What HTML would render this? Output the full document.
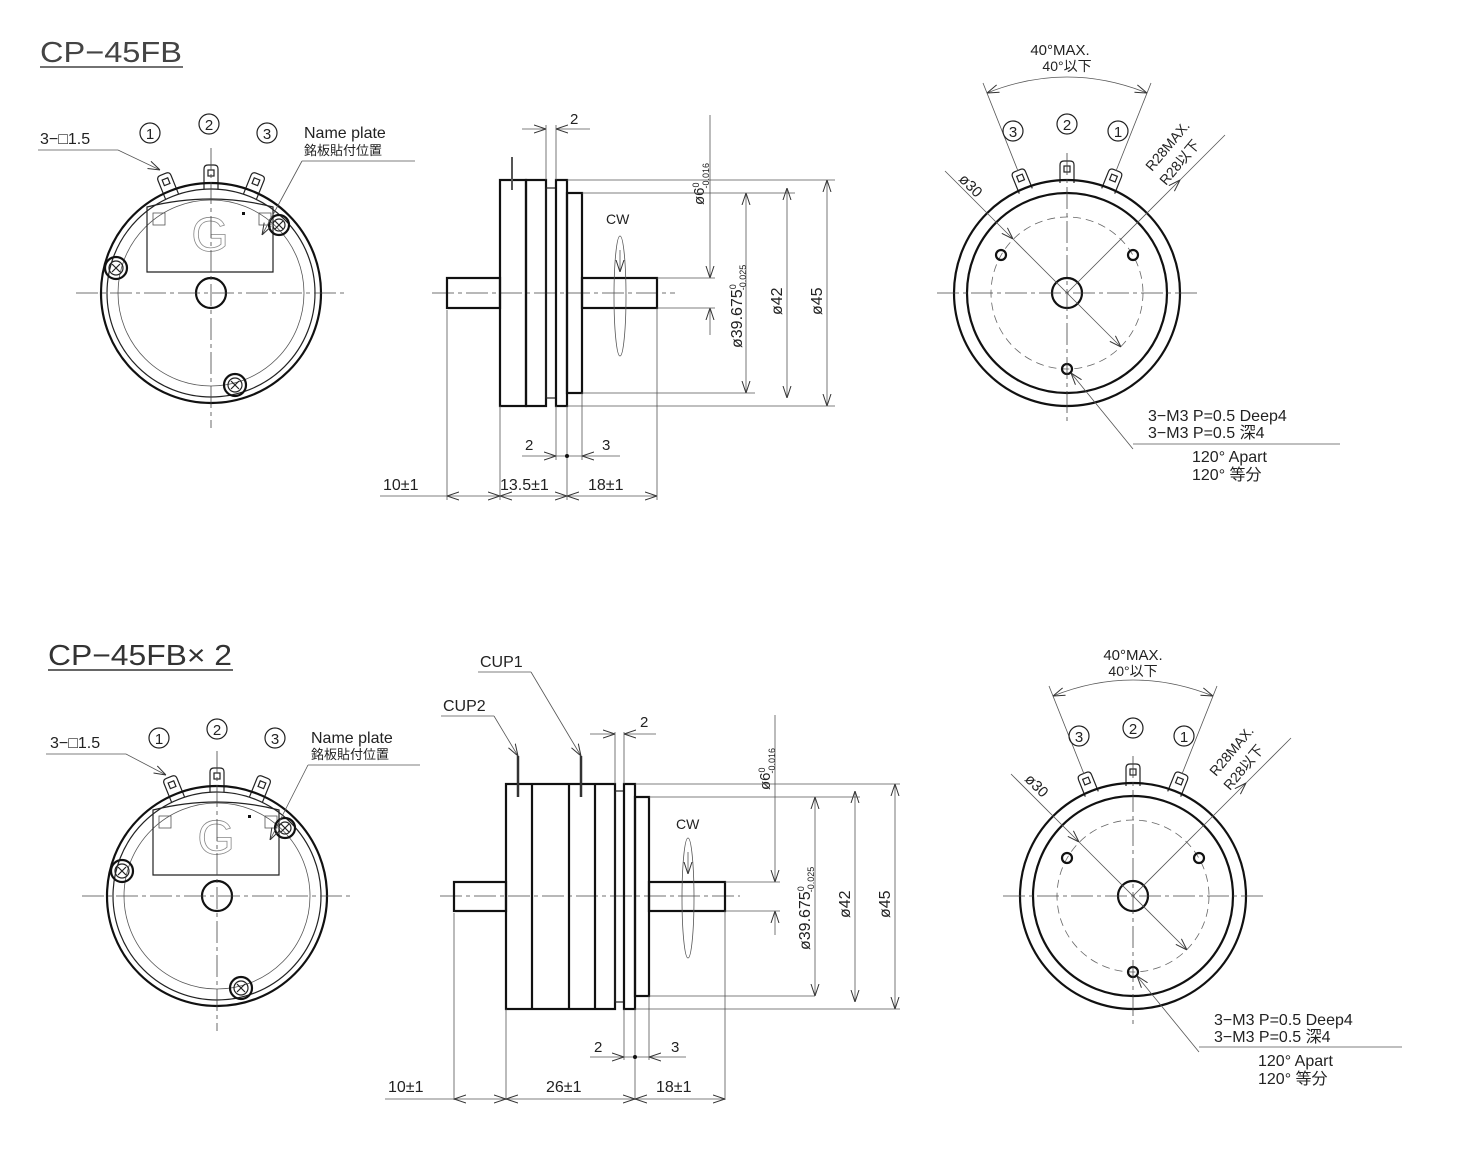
<!DOCTYPE html>
<html><head><meta charset="utf-8"><style>
html,body{margin:0;padding:0;background:#fff;}
svg{display:block;}
text{font-family:"Liberation Sans","Noto Sans CJK JP",sans-serif;fill:#222;}
.k{stroke:#111;fill:none;stroke-width:2.2}
.m{stroke:#222;fill:none;stroke-width:1.2}
.t{stroke:#555;fill:none;stroke-width:0.8}
.a{stroke:#555;fill:none;stroke-width:0.8;marker-start:url(#ar);marker-end:url(#ar)}
.e{stroke:#555;fill:none;stroke-width:0.8;marker-end:url(#ar)}
.c{stroke:#444;fill:none;stroke-width:0.8;stroke-dasharray:22 4 4 4}
.d{stroke:#666;fill:none;stroke-width:0.8;stroke-dasharray:8 5}
</style></head><body>
<svg width="1465" height="1152" viewBox="0 0 1465 1152" xmlns="http://www.w3.org/2000/svg">
<defs>
<marker id="ar" viewBox="0 -5 12 10" refX="12" refY="0" markerWidth="12" markerHeight="10" markerUnits="userSpaceOnUse" orient="auto-start-reverse">
  <path d="M0,-4 L12,0 L0,4" fill="none" stroke="#333" stroke-width="1"/>
</marker>
<g id="fl">
  <g transform="rotate(-22)"><path class="m" d="M-7,-104 L-7,-124 Q-7,-128 -3,-128 L3,-128 Q7,-128 7,-124 L7,-104"/><rect class="m" x="-3" y="-123" width="6" height="6"/></g>
  <g><path class="m" d="M-7,-104 L-7,-124 Q-7,-128 -3,-128 L3,-128 Q7,-128 7,-124 L7,-104"/><rect class="m" x="-3" y="-123" width="6" height="6"/></g>
  <g transform="rotate(22)"><path class="m" d="M-7,-104 L-7,-124 Q-7,-128 -3,-128 L3,-128 Q7,-128 7,-124 L7,-104"/><rect class="m" x="-3" y="-123" width="6" height="6"/></g>
  <circle class="k" r="110"/>
  <circle class="m" r="104"/>
  <circle class="t" r="93"/>
  <circle class="k" r="15"/>
  <path class="m" d="M-64,-21 L-64,-86 Q0,-102 62,-86 L62,-21 Z" fill="#fff"/>
  <rect class="t" x="-58" y="-80" width="12" height="12"/>
  <rect class="t" x="48" y="-80" width="12" height="12"/>
  <rect x="31" y="-81" width="3" height="3" fill="#111"/>
  <text x="-1" y="-42" text-anchor="middle" font-family="Liberation Serif,serif" font-size="48" style="fill:none;stroke:#888;stroke-width:0.8">G</text>
  <circle class="k" cx="-95" cy="-25" r="11" fill="#fff"/><circle class="m" cx="-95" cy="-25" r="7"/><path class="m" d="M-99,-29 L-91,-21 M-99,-21 L-91,-29"/>
  <circle class="k" cx="24" cy="92" r="11" fill="#fff"/><circle class="m" cx="24" cy="92" r="7"/><path class="m" d="M20,88 L28,96 M20,96 L28,88"/>
  <circle class="k" cx="68" cy="-68" r="10" fill="#fff"/><circle class="m" cx="68" cy="-68" r="6"/><path class="m" d="M64,-72 L72,-64 M64,-64 L72,-72"/>
  <line class="c" x1="-135" y1="0" x2="135" y2="0"/>
  <line class="c" x1="0" y1="-145" x2="0" y2="135"/>
</g>
<g id="fr">
  <g transform="rotate(-22)"><path class="m" d="M-7,-110 L-7,-128 Q-7,-132 -3,-132 L3,-132 Q7,-132 7,-128 L7,-110"/><rect class="m" x="-3" y="-127" width="6" height="6"/></g>
  <g><path class="m" d="M-7,-110 L-7,-128 Q-7,-132 -3,-132 L3,-132 Q7,-132 7,-128 L7,-110"/><rect class="m" x="-3" y="-127" width="6" height="6"/></g>
  <g transform="rotate(22)"><path class="m" d="M-7,-110 L-7,-128 Q-7,-132 -3,-132 L3,-132 Q7,-132 7,-128 L7,-110"/><rect class="m" x="-3" y="-127" width="6" height="6"/></g>
  <circle class="k" r="113" fill="#fff"/>
  <circle class="k" r="100"/>
  <circle class="d" r="76"/>
  <circle class="k" r="15"/>
  <circle class="k" cx="-66" cy="-38" r="5"/><circle class="k" cx="66" cy="-38" r="5"/><circle class="k" cx="0" cy="76" r="5"/>
  <line class="c" x1="-130" y1="0" x2="130" y2="0"/>
  <line class="c" x1="0" y1="-140" x2="0" y2="130"/>
  <line class="t" x1="-122" y1="-122" x2="-54" y2="-54" style="marker-end:url(#ar)"/>
  <line class="t" x1="-54" y1="-54" x2="54" y2="54" style="marker-end:url(#ar)"/>
  <line class="t" x1="0" y1="0" x2="113" y2="-113" style="marker-end:url(#ar)"/>
  <line class="t" x1="113" y1="-113" x2="158" y2="-158"/>
  <line class="t" x1="66" y1="156" x2="4" y2="80" style="marker-end:url(#ar)"/>
  <line class="t" x1="-49" y1="-122" x2="-84" y2="-210"/>
  <line class="t" x1="49" y1="-122" x2="84" y2="-210"/>
  <path class="t" d="M-80,-200 Q0,-232 80,-200" style="marker-start:url(#ar);marker-end:url(#ar)"/>
</g>
</defs>

<!-- ===== TOP ===== -->
<text x="40" y="62" font-size="29" textLength="142" lengthAdjust="spacingAndGlyphs" style="fill:#444">CP−45FB</text>
<line x1="40" y1="67" x2="183" y2="67" stroke="#444" stroke-width="1.5"/>

<use href="#fl" x="211" y="293"/>
<text x="40" y="144" font-size="16">3−□1.5</text>
<line class="t" x1="38" y1="150" x2="118" y2="150"/><line class="t" x1="118" y1="150" x2="160" y2="170" style="marker-end:url(#ar)"/>
<circle class="m" cx="150" cy="133" r="10"/><text x="150" y="139" font-size="15" text-anchor="middle">1</text>
<circle class="m" cx="209" cy="124" r="10"/><text x="209" y="130" font-size="15" text-anchor="middle">2</text>
<circle class="m" cx="267" cy="133" r="10"/><text x="267" y="139" font-size="15" text-anchor="middle">3</text>
<text x="304" y="138" font-size="16">Name plate</text>
<text x="304" y="155" font-size="13">銘板貼付位置</text>
<line class="t" x1="302" y1="161" x2="415" y2="161"/><line class="t" x1="302" y1="161" x2="262" y2="235" style="marker-end:url(#ar)"/>

<!-- top side view -->
<line class="c" x1="432" y1="293" x2="675" y2="293"/>
<rect class="k" x="447" y="278" width="53" height="30"/>
<rect class="k" x="582" y="278" width="75" height="30"/>
<rect class="k" x="500" y="180" width="26" height="226"/>
<rect class="k" x="526" y="180" width="20" height="226"/>
<rect class="m" x="546" y="188" width="10" height="210"/>
<rect class="k" x="556" y="180" width="11" height="226"/>
<rect class="k" x="567" y="193" width="15" height="200"/>
<line x1="512" y1="157" x2="512" y2="190" stroke="#555" stroke-width="2"/>
<line class="t" x1="546" y1="125" x2="546" y2="180"/><line class="t" x1="556" y1="125" x2="556" y2="180"/>
<line class="e" x1="522" y1="129" x2="546" y2="129"/><line class="e" x1="590" y1="129" x2="556" y2="129"/><text x="570" y="124" font-size="15">2</text>
<line class="t" x1="710" y1="115" x2="710" y2="278" style="marker-end:url(#ar)"/><line class="e" x1="710" y1="335" x2="710" y2="308"/>
<text transform="translate(704,205) rotate(-90)" font-size="15">ø6<tspan font-size="9" dy="-5">0</tspan><tspan font-size="9" dx="-6" dy="10">-0.016</tspan></text>
<line class="t" x1="567" y1="180" x2="835" y2="180"/><line class="t" x1="582" y1="193" x2="795" y2="193"/>
<line class="t" x1="582" y1="393" x2="755" y2="393"/><line class="t" x1="567" y1="406" x2="835" y2="406"/>
<line class="t" x1="657" y1="278" x2="715" y2="278"/><line class="t" x1="657" y1="308" x2="715" y2="308"/>
<line class="a" x1="746" y1="193" x2="746" y2="393"/><line class="a" x1="787" y1="188" x2="787" y2="398"/><line class="a" x1="827" y1="180" x2="827" y2="406"/>
<text transform="translate(742,348) rotate(-90)" font-size="16">ø39.675<tspan font-size="9" dy="-6">0</tspan><tspan font-size="9" dx="-6" dy="10">-0.025</tspan></text>
<text transform="translate(782,315) rotate(-90)" font-size="16">ø42</text>
<text transform="translate(822,315) rotate(-90)" font-size="16">ø45</text>
<text x="606" y="224" font-size="14">CW</text>
<ellipse class="t" cx="620" cy="296" rx="6" ry="60"/>
<line class="t" x1="620" y1="250" x2="620" y2="272" style="marker-end:url(#ar)"/>
<line class="t" x1="447" y1="310" x2="447" y2="500"/><line class="t" x1="500" y1="406" x2="500" y2="500"/>
<line class="t" x1="567" y1="406" x2="567" y2="500"/><line class="t" x1="657" y1="308" x2="657" y2="500"/>
<line class="t" x1="556" y1="406" x2="556" y2="460"/><line class="t" x1="582" y1="393" x2="582" y2="460"/>
<line class="e" x1="522" y1="456" x2="556" y2="456"/><line class="e" x1="620" y1="456" x2="582" y2="456"/><line class="t" x1="556" y1="456" x2="582" y2="456"/><circle cx="567" cy="456" r="2" fill="#111"/>
<text x="525" y="450" font-size="15">2</text><text x="602" y="450" font-size="15">3</text>
<line class="t" x1="380" y1="496" x2="447" y2="496"/>
<line class="a" x1="447" y1="496" x2="500" y2="496"/><line class="a" x1="500" y1="496" x2="567" y2="496"/><line class="a" x1="567" y1="496" x2="657" y2="496"/>
<text x="383" y="490" font-size="16">10±1</text><text x="500" y="490" font-size="16">13.5±1</text><text x="588" y="490" font-size="16">18±1</text>

<!-- top right front -->
<use href="#fr" x="1067" y="293"/>
<circle class="m" cx="1013" cy="131" r="10"/><text x="1013" y="137" font-size="15" text-anchor="middle">3</text>
<circle class="m" cx="1067" cy="124" r="10"/><text x="1067" y="130" font-size="15" text-anchor="middle">2</text>
<circle class="m" cx="1118" cy="131" r="10"/><text x="1118" y="137" font-size="15" text-anchor="middle">1</text>
<text x="1060" y="55" font-size="15" text-anchor="middle">40°MAX.</text>
<text x="1067" y="71" font-size="14" text-anchor="middle">40°以下</text>
<text transform="translate(958,180) rotate(45)" font-size="15">ø30</text>
<text transform="translate(1152,172) rotate(-50)" font-size="14">R28MAX.</text>
<text transform="translate(1166,186) rotate(-50)" font-size="14">R28以下</text>
<text x="1148" y="421" font-size="16">3−M3 P=0.5 Deep4</text>
<text x="1148" y="438" font-size="16">3−M3 P=0.5 深4</text>
<line class="t" x1="1133" y1="444" x2="1340" y2="444"/>
<text x="1192" y="462" font-size="16">120° Apart</text>
<text x="1192" y="480" font-size="16">120° 等分</text>

<!-- ===== BOTTOM ===== -->
<text x="48" y="665" font-size="29" textLength="184" lengthAdjust="spacingAndGlyphs" style="fill:#333">CP−45FB× 2</text>
<line x1="48" y1="670" x2="233" y2="670" stroke="#333" stroke-width="1.5"/>

<use href="#fl" x="217" y="896"/>
<text x="50" y="748" font-size="16">3−□1.5</text>
<line class="t" x1="46" y1="754" x2="126" y2="754"/><line class="t" x1="126" y1="754" x2="166" y2="775" style="marker-end:url(#ar)"/>
<circle class="m" cx="159" cy="738" r="10"/><text x="159" y="744" font-size="15" text-anchor="middle">1</text>
<circle class="m" cx="217" cy="729" r="10"/><text x="217" y="735" font-size="15" text-anchor="middle">2</text>
<circle class="m" cx="275" cy="738" r="10"/><text x="275" y="744" font-size="15" text-anchor="middle">3</text>
<text x="311" y="743" font-size="16">Name plate</text>
<text x="311" y="759" font-size="13">銘板貼付位置</text>
<line class="t" x1="308" y1="765" x2="420" y2="765"/><line class="t" x1="308" y1="765" x2="270" y2="840" style="marker-end:url(#ar)"/>

<!-- bottom side view -->
<line class="c" x1="440" y1="896" x2="740" y2="896"/>
<rect class="k" x="454" y="882" width="52" height="29"/>
<rect class="k" x="649" y="882" width="76" height="29"/>
<rect class="k" x="506" y="784" width="109" height="225"/>
<line class="k" x1="532" y1="784" x2="532" y2="1009"/><line class="k" x1="569" y1="784" x2="569" y2="1009"/><line class="k" x1="595" y1="784" x2="595" y2="1009"/>
<rect class="m" x="615" y="791" width="9" height="211"/>
<rect class="k" x="624" y="784" width="11" height="225"/>
<rect class="k" x="635" y="797" width="14" height="199"/>
<line x1="518" y1="756" x2="518" y2="797" stroke="#333" stroke-width="2.5"/>
<line x1="581" y1="756" x2="581" y2="797" stroke="#333" stroke-width="2.5"/>
<text x="443" y="711" font-size="16">CUP2</text><line class="t" x1="441" y1="716" x2="494" y2="716"/><line class="t" x1="494" y1="716" x2="518" y2="756" style="marker-end:url(#ar)"/>
<text x="480" y="667" font-size="16">CUP1</text><line class="t" x1="478" y1="672" x2="531" y2="672"/><line class="t" x1="531" y1="672" x2="581" y2="756" style="marker-end:url(#ar)"/>
<line class="t" x1="615" y1="732" x2="615" y2="784"/><line class="t" x1="624" y1="732" x2="624" y2="784"/>
<line class="e" x1="590" y1="734" x2="615" y2="734"/><line class="e" x1="656" y1="734" x2="624" y2="734"/><text x="640" y="727" font-size="15">2</text>
<line class="t" x1="775" y1="715" x2="775" y2="882" style="marker-end:url(#ar)"/><line class="e" x1="775" y1="935" x2="775" y2="911"/>
<text transform="translate(770,790) rotate(-90)" font-size="15">ø6<tspan font-size="9" dy="-5">0</tspan><tspan font-size="9" dx="-6" dy="10">-0.016</tspan></text>
<line class="t" x1="635" y1="784" x2="900" y2="784"/><line class="t" x1="649" y1="797" x2="860" y2="797"/>
<line class="t" x1="649" y1="996" x2="815" y2="996"/><line class="t" x1="635" y1="1009" x2="900" y2="1009"/>
<line class="t" x1="725" y1="882" x2="780" y2="882"/><line class="t" x1="725" y1="911" x2="780" y2="911"/>
<line class="a" x1="815" y1="797" x2="815" y2="996"/><line class="a" x1="855" y1="791" x2="855" y2="1002"/><line class="a" x1="895" y1="784" x2="895" y2="1009"/>
<text transform="translate(810,950) rotate(-90)" font-size="16">ø39.675<tspan font-size="9" dy="-6">0</tspan><tspan font-size="9" dx="-6" dy="10">-0.025</tspan></text>
<text transform="translate(850,918) rotate(-90)" font-size="16">ø42</text>
<text transform="translate(890,918) rotate(-90)" font-size="16">ø45</text>
<text x="676" y="829" font-size="14">CW</text>
<ellipse class="t" cx="688" cy="898" rx="6" ry="60"/>
<line class="t" x1="688" y1="852" x2="688" y2="874" style="marker-end:url(#ar)"/>
<line class="t" x1="454" y1="913" x2="454" y2="1100"/><line class="t" x1="506" y1="1009" x2="506" y2="1100"/>
<line class="t" x1="635" y1="1009" x2="635" y2="1100"/><line class="t" x1="725" y1="911" x2="725" y2="1100"/>
<line class="t" x1="624" y1="1009" x2="624" y2="1060"/><line class="t" x1="649" y1="996" x2="649" y2="1060"/>
<line class="e" x1="590" y1="1057" x2="624" y2="1057"/><line class="e" x1="686" y1="1057" x2="649" y2="1057"/><line class="t" x1="624" y1="1057" x2="649" y2="1057"/><circle cx="635" cy="1057" r="2" fill="#111"/>
<text x="594" y="1052" font-size="15">2</text><text x="671" y="1052" font-size="15">3</text>
<line class="t" x1="385" y1="1099" x2="454" y2="1099"/>
<line class="a" x1="454" y1="1099" x2="506" y2="1099"/><line class="a" x1="506" y1="1099" x2="635" y2="1099"/><line class="a" x1="635" y1="1099" x2="725" y2="1099"/>
<text x="388" y="1092" font-size="16">10±1</text><text x="546" y="1092" font-size="16">26±1</text><text x="656" y="1092" font-size="16">18±1</text>

<!-- bottom right front -->
<use href="#fr" x="1133" y="896"/>
<circle class="m" cx="1079" cy="736" r="10"/><text x="1079" y="742" font-size="15" text-anchor="middle">3</text>
<circle class="m" cx="1133" cy="728" r="10"/><text x="1133" y="734" font-size="15" text-anchor="middle">2</text>
<circle class="m" cx="1184" cy="736" r="10"/><text x="1184" y="742" font-size="15" text-anchor="middle">1</text>
<text x="1133" y="660" font-size="15" text-anchor="middle">40°MAX.</text>
<text x="1133" y="676" font-size="14" text-anchor="middle">40°以下</text>
<text transform="translate(1024,780) rotate(45)" font-size="15">ø30</text>
<text transform="translate(1216,777) rotate(-50)" font-size="14">R28MAX.</text>
<text transform="translate(1230,791) rotate(-50)" font-size="14">R28以下</text>
<text x="1214" y="1025" font-size="16">3−M3 P=0.5 Deep4</text>
<text x="1214" y="1042" font-size="16">3−M3 P=0.5 深4</text>
<line class="t" x1="1199" y1="1047" x2="1402" y2="1047"/>
<text x="1258" y="1066" font-size="16">120° Apart</text>
<text x="1258" y="1084" font-size="16">120° 等分</text>
</svg>
</body></html>
